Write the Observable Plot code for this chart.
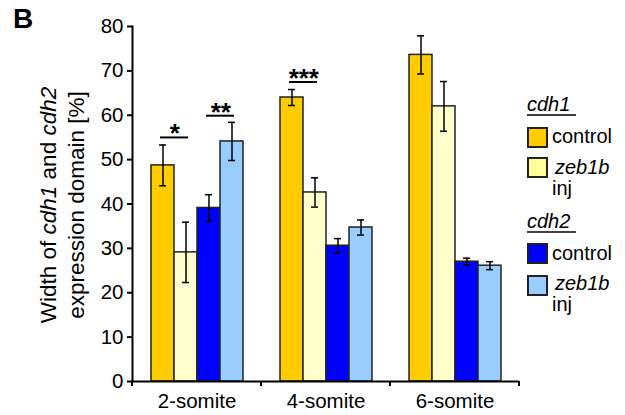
<!DOCTYPE html>
<html>
<head>
<meta charset="utf-8">
<script src="https://cdn.jsdelivr.net/npm/d3@7"></script>
<script src="https://cdn.jsdelivr.net/npm/@observablehq/plot@0.6"></script>
<style>
  html, body { margin: 0; padding: 0; background: #fff; }
  #chart { width: 625px; height: 415px; }
</style>
</head>
<body>
<div id="chart"></div>
<script>
// ---- data ----
const stages = ["2-somite", "4-somite", "6-somite"];
const series = ["cdh1 control", "cdh1 zeb1b inj", "cdh2 control", "cdh2 zeb1b inj"];
const colors = ["#FFCC00", "#FFFFCC", "#0000FF", "#99CCFF"];
const legendColors = ["#FFCC00", "#FFFF99", "#0000FF", "#99CCFF"];

const cdh1Control = [48.7, 64.0, 73.6];
const cdh1Inj     = [29.1, 42.6, 62.0];
const cdh2Control = [39.1, 30.6, 27.0];
const cdh2Inj     = [54.1, 34.7, 26.1];

const cdh1ControlErr = [4.6, 1.8, 4.3];
const cdh1InjErr     = [6.8, 3.3, 5.6];
const cdh2ControlErr = [3.0, 1.6, 0.8];
const cdh2InjErr     = [4.3, 1.7, 0.9];

const yTicks = [0, 10, 20, 30, 40, 50, 60, 70, 80];

const sigStage = ["2-somite", "2-somite", "4-somite"];
const sigFrom  = ["cdh1 control", "cdh2 control", "cdh1 control"];
const sigTo    = ["cdh1 zeb1b inj", "cdh2 zeb1b inj", "cdh1 zeb1b inj"];
const sigY     = [55.0, 59.9, 67.5];
const sigLabel = ["*", "**", "***"];

// ---- tables ----
const values = [cdh1Control, cdh1Inj, cdh2Control, cdh2Inj];
const errors = [cdh1ControlErr, cdh1InjErr, cdh2ControlErr, cdh2InjErr];
const rows = stages.flatMap((s, i) => series.map((k, j) => ({
  stage: s, series: k, value: values[j][i], lo: values[j][i] - errors[j][i], hi: values[j][i] + errors[j][i]
})));
const sig = sigStage.map((s, i) => ({stage: s, from: sigFrom[i], to: sigTo[i], y: sigY[i], label: sigLabel[i]}));

const FONT = "'Liberation Sans', Arial, Helvetica, sans-serif";

const plot = Plot.plot({
  width: 625,
  height: 415,
  marginLeft: 132,
  marginRight: 106,
  marginTop: 26,
  marginBottom: 34,
  style: {fontFamily: FONT, fontSize: "20px", color: "#000", background: "#fff", overflow: "visible"},
  fx: {domain: stages, padding: 0, label: null},
  x: {domain: series, paddingInner: 0, paddingOuter: 0.72, axis: null},
  y: {domain: [0, 80], label: null},
  color: {domain: series, range: colors},
  marks: [
    Plot.barY(rows, {fx: "stage", x: "series", y: "value", fill: "series", stroke: "#222", strokeWidth: 1.5}),
    Plot.ruleX(rows, {fx: "stage", x: "series", y1: "lo", y2: "hi", stroke: "#000", strokeWidth: 1.5}),
    Plot.tickY(rows, {fx: "stage", x: "series", y: "hi", stroke: "#000", strokeWidth: 1.5, insetLeft: 8, insetRight: 8}),
    Plot.tickY(rows, {fx: "stage", x: "series", y: "lo", stroke: "#000", strokeWidth: 1.5, insetLeft: 8, insetRight: 8}),
    Plot.ruleY(sig, {fx: "stage", x1: "from", x2: "to", y: "y", stroke: "#000", strokeWidth: 2, insetLeft: 9, insetRight: 9}),
    Plot.text(sig, {fx: "stage", x: "from", y: "y", text: "label", dx: 11.8, dy: 5, lineAnchor: "bottom", fontSize: 26, fontWeight: "bold", fill: "#000"}),
    Plot.ruleY([0], {stroke: "#000", strokeWidth: 2}),
    Plot.frame({anchor: "left", facetAnchor: "left", stroke: "#000", strokeWidth: 2}),
    Plot.axisY({ticks: yTicks, tickSize: 5, tickPadding: 4, strokeWidth: 2, label: null, fontSize: 20.5, tickFormat: d => d}),
    Plot.axisFx({anchor: "bottom", tickSize: 0, tickPadding: 12, label: null, fontSize: 20.5})
  ]
});

document.getElementById("chart").appendChild(plot);

// ---- annotations (axis title, panel letter, legend, x-axis boundary ticks) ----
const svg = d3.select(plot);
const fx = plot.scale("fx");
const yS = plot.scale("y");
const y0 = yS.apply(0);
const bounds = stages.map(s => fx.apply(s)).concat([fx.apply(stages[stages.length - 1]) + fx.bandwidth]);
svg.append("g").selectAll("line").data(bounds).join("line")
  .attr("x1", d => d).attr("x2", d => d)
  .attr("y1", y0).attr("y2", y0 + 5)
  .attr("stroke", "#000").attr("stroke-width", 2);

const g = svg.append("g").attr("font-family", FONT).attr("fill", "#000").attr("text-anchor", "start");

g.append("text").attr("x", 13).attr("y", 28).attr("font-size", 28).attr("font-weight", "bold").text("B");

const yt = g.append("text").attr("transform", "translate(0,205) rotate(-90)")
  .attr("text-anchor", "middle").attr("font-size", 22.5);
const l1 = yt.append("tspan").attr("x", 0).attr("y", 56);
l1.append("tspan").text("Width of ");
l1.append("tspan").attr("font-style", "italic").text("cdh1");
l1.append("tspan").text(" and ");
l1.append("tspan").attr("font-style", "italic").text("cdh2");
yt.append("tspan").attr("x", 0).attr("y", 84).text("expression domain [%]");

// legend
const groups = [
  {title: "cdh1", titleY: 111, sw: [127, 157], lab: [143, 174, 195], c: [legendColors[0], legendColors[1]]},
  {title: "cdh2", titleY: 228, sw: [243, 275], lab: [260, 290, 311], c: [legendColors[2], legendColors[3]]}
];
const LX = 527;
groups.forEach(gr => {
  g.append("text").attr("x", LX).attr("y", gr.titleY).attr("font-size", 20).attr("font-style", "italic").text(gr.title);
  g.append("line").attr("x1", LX).attr("x2", LX + 49).attr("y1", gr.titleY + 4).attr("y2", gr.titleY + 4)
    .attr("stroke", "#000").attr("stroke-width", 1.5);
  gr.sw.forEach((sy, i) => {
    g.append("rect").attr("x", LX + 1).attr("y", sy + 1).attr("width", 19).attr("height", 19)
      .attr("fill", gr.c[i]).attr("stroke", "#222").attr("stroke-width", 2);
  });
  g.append("text").attr("x", 552).attr("y", gr.lab[0]).attr("font-size", 20).text("control");
  g.append("text").attr("x", 555).attr("y", gr.lab[1]).attr("font-size", 20).attr("font-style", "italic").text("zeb1b");
  g.append("text").attr("x", 552).attr("y", gr.lab[2]).attr("font-size", 20).text("inj");
});
</script>
</body>
</html>
